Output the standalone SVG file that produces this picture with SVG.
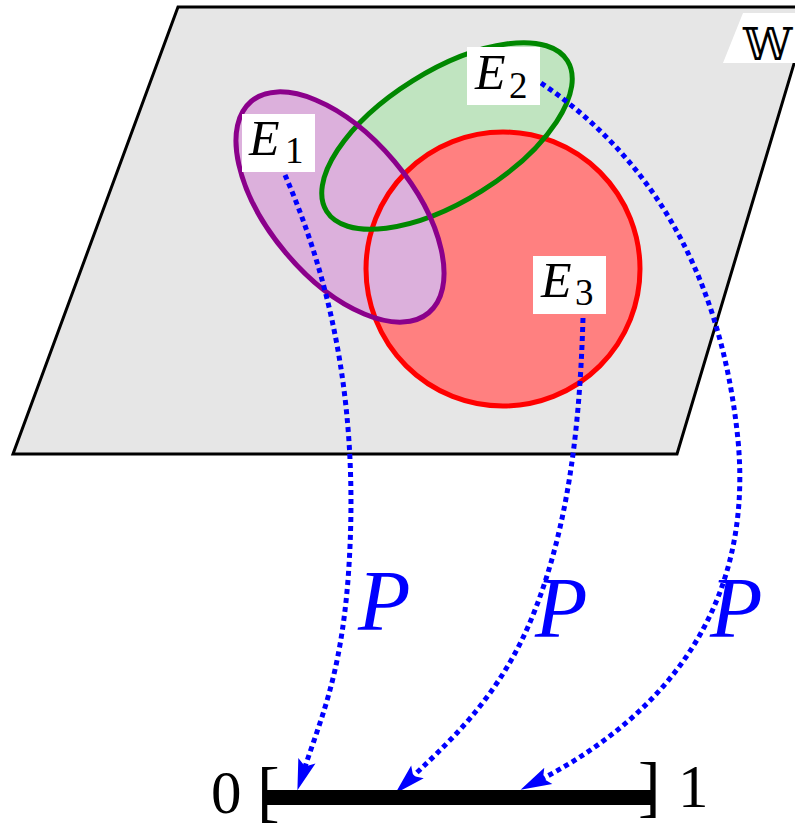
<svg xmlns="http://www.w3.org/2000/svg" width="795" height="827" viewBox="0 0 795 827">
<defs>
<style>
.lbl{fill:#fff}
.t{fill:#000}
.it{font-style:italic}
.p{font-style:italic;fill:#0000ff;font-size:86px}
.dot{fill:none;stroke:#0000ff;stroke-width:5;stroke-dasharray:5 4}
</style>
<marker id="ah" markerUnits="userSpaceOnUse" orient="auto" refX="0" refY="0" markerWidth="40" markerHeight="30" viewBox="-20 -15 40 30" overflow="visible">
<path d="M15,0 L-16,-9 L-10,0 L-16,9 Z" fill="#0000ff"/>
</marker>
</defs>
<g id="plane">
<polygon points="178,7 811,7 677,454 13,454" fill="#e6e6e6" stroke="#000" stroke-width="3"/>
</g>
<g id="W-label">
<polygon points="743,13 795,13 795,63 723,63" class="lbl"/>
<text x="743" y="60" font-family="DejaVu Serif, DejaVu Sans, serif" font-size="44">𝕎</text>
</g>
<g id="fills">
<ellipse cx="447" cy="136" rx="142" ry="65" transform="rotate(-32 447 136)" fill="#c0e4c0"/>
<circle cx="503" cy="269" r="137" fill="#ff8080"/>
<ellipse cx="340" cy="207" rx="138" ry="71" transform="rotate(50 340 207)" fill="#dcb0dc"/>
</g>
<g id="E3">
<circle cx="503" cy="269" r="137" fill="none" stroke="#ff0000" stroke-width="5"/>
</g>
<g id="E2">
<ellipse cx="447" cy="136" rx="142" ry="65" transform="rotate(-32 447 136)" fill="none" stroke="#008800" stroke-width="5"/>
</g>
<g id="E1">
<ellipse cx="340" cy="207" rx="138" ry="71" transform="rotate(50 340 207)" fill="none" stroke="#8b008b" stroke-width="5"/>
</g>
<g id="connectors">
<path class="dot" d="M285,175 C335,290 360,420 348,580 C340,680 320,720 302,776" marker-end="url(#ah)"/>
<path class="dot" d="M583,318 C580,420 570,520 535,610 C500,700 445,745 406,783" marker-end="url(#ah)"/>
<path class="dot" d="M541,83 C640,150 720,260 738,440 C755,620 650,725 534,783" marker-end="url(#ah)"/>
</g>
<g id="E1-label" font-family="Liberation Serif, Times New Roman, serif">
<rect x="242" y="114" width="73" height="58" class="lbl"/>
<text x="249" y="155" class="t it" font-size="50">E</text>
<text x="285" y="163" class="t" font-size="37">1</text>
</g>
<g id="E2-label" font-family="Liberation Serif, Times New Roman, serif">
<rect x="467" y="47" width="73" height="58" class="lbl"/>
<text x="475" y="89" class="t it" font-size="50">E</text>
<text x="509" y="98" class="t" font-size="37">2</text>
</g>
<g id="E3-label" font-family="Liberation Serif, Times New Roman, serif">
<rect x="533" y="256" width="73" height="58" class="lbl"/>
<text x="541" y="297" class="t it" font-size="50">E</text>
<text x="575" y="305" class="t" font-size="37">3</text>
</g>
<g id="P-labels" font-family="Liberation Serif, Times New Roman, serif">
<text x="358" y="630" class="p">P</text>
<text x="535" y="637" class="p">P</text>
<text x="710" y="637" class="p">P</text>
</g>
<g id="interval" font-family="Liberation Serif, Times New Roman, serif">
<line x1="263" y1="797.5" x2="655" y2="797.5" stroke="#000" stroke-width="15"/>
<text x="257" y="814" class="t" font-size="68">[</text>
<text x="638" y="809" class="t" font-size="68">]</text>
<text x="211" y="813" class="t" font-size="61">0</text>
<text x="678" y="807" class="t" font-size="61">1</text>
</g>
</svg>
